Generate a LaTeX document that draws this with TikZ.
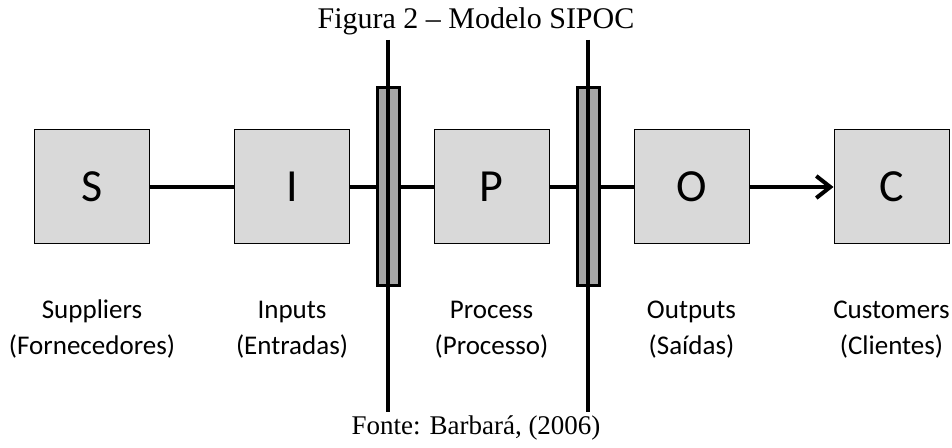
\documentclass[tikz,border=0pt]{standalone}
\usepackage{fontspec}
\setmainfont{Carlito}
\newfontfamily\capfont{Liberation Serif}
\usetikzlibrary{arrows.meta}

\tikzset{
  letterbox/.style={draw,line width=0.5pt,fill=black!15,minimum width=57.5pt,minimum height=57pt,inner sep=0pt,font=\fontsize{23}{27}\selectfont},
  gatebar/.style={draw,line width=1.5pt,fill=black!35,minimum width=11pt,minimum height=99pt,inner sep=0pt},
  lbl/.style={font=\fontsize{13.5}{16}\selectfont,inner sep=0pt,anchor=base},
  captext/.style={font=\capfont\fontsize{13.5}{16}\selectfont,inner sep=0pt,anchor=base},
  link/.style={line width=2pt}
}

\begin{document}
\begin{tikzpicture}[x=0.5pt,y=-0.5pt]
\useasboundingbox (0,0) rectangle (952,448);

\node[captext,font=\capfont\fontsize{15}{18}\selectfont] (title) at (476,29) {Figura 2 – Modelo SIPOC};

\node[letterbox] (S) at (92,187) {S};
\node[letterbox] (I) at (292,187) {I};
\node[letterbox] (P) at (491.5,187) {P};
\node[letterbox] (O) at (691.5,187) {O};
\node[letterbox] (C) at (891.5,187) {C};

\node[gatebar] (bar1) at (388,187) {};
\node[gatebar] (bar2) at (588,187) {};

\draw[link] (S) -- (I);
\draw[link] (I) -- (bar1) -- (P);
\draw[link] (P) -- (bar2) -- (O);
\draw[link,-{Straight Barb[length=7pt,width=11pt]}] (O) -- (C);

% the two gate lines
\coordinate (top1) at (388,40);
\coordinate (bot1) at (388,412);
\coordinate (top2) at (588,40);
\coordinate (bot2) at (588,412);
\draw[link] (top1) -- (bot1);
\draw[link] (top2) -- (bot2);

\node[lbl] (sname) at (92,319) {Suppliers};
\node[lbl] (spt) at (92,355) {(Fornecedores)};
\node[lbl] (iname) at (292,319) {Inputs};
\node[lbl] (ipt) at (292,355) {(Entradas)};
\node[lbl] (pname) at (491.5,319) {Process};
\node[lbl] (ppt) at (491.5,355) {(Processo)};
\node[lbl] (oname) at (691.5,319) {Outputs};
\node[lbl] (opt) at (691.5,355) {(Saídas)};
\node[lbl] (cname) at (891.5,319) {Customers};
\node[lbl] (cpt) at (891.5,355) {(Clientes)};

\node[captext] (src) at (476,434) {Fonte: Barbará, (2006)};
\end{tikzpicture}
\end{document}
